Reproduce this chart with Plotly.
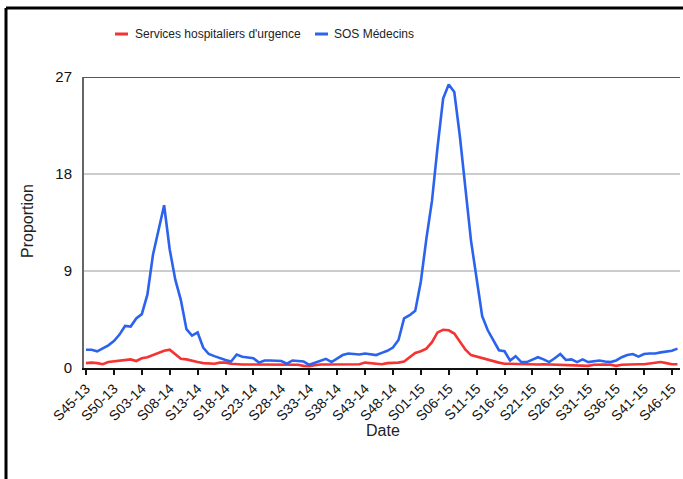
import plotly.graph_objects as go

# ---- data ----
weeks = ([f"S{w:02d}-13" for w in range(45, 53)] +
         [f"S{w:02d}-14" for w in range(1, 53)] +
         [f"S{w:02d}-15" for w in range(1, 48)])

sos_medecins = [
    1.7, 1.7, 1.55, 1.8, 2.1, 2.5, 3.1, 3.9, 3.85, 4.6,
    5.0, 6.8, 10.5, 12.8, 15.1, 11.0, 8.2, 6.3, 3.6, 3.0,
    3.3, 1.9, 1.3, 1.1, 0.9, 0.75, 0.6, 1.25, 1.05, 1.0,
    0.9, 0.5, 0.7, 0.7, 0.65, 0.65, 0.4, 0.7, 0.65, 0.6,
    0.3, 0.5, 0.7, 0.85, 0.55, 0.85, 1.2, 1.35, 1.3, 1.25,
    1.35, 1.25, 1.2, 1.4, 1.6, 1.9, 2.6, 4.6, 4.9, 5.3,
    8.0, 12.0, 15.5, 20.5, 25.0, 26.3, 25.6, 21.5, 16.3, 11.8,
    8.3, 4.8, 3.5, 2.5, 1.65, 1.55, 0.7, 1.1, 0.55, 0.55,
    0.8, 1.0, 0.8, 0.55, 0.9, 1.3, 0.75, 0.8, 0.55, 0.8,
    0.55, 0.65, 0.7, 0.6, 0.55, 0.7, 1.0, 1.2, 1.3, 1.05,
    1.3, 1.35, 1.35, 1.45, 1.55, 1.6, 1.8,
]

urgences = [
    0.45, 0.5, 0.45, 0.35, 0.55, 0.6, 0.65, 0.75, 0.8, 0.65,
    0.9, 1.0, 1.2, 1.4, 1.6, 1.7, 1.3, 0.85, 0.8, 0.65,
    0.55, 0.45, 0.4, 0.4, 0.5, 0.5, 0.4, 0.35, 0.33, 0.33,
    0.33, 0.35, 0.33, 0.33, 0.35, 0.33, 0.33, 0.3, 0.3, 0.2,
    0.17, 0.25, 0.33, 0.33, 0.33, 0.35, 0.33, 0.33, 0.35, 0.35,
    0.5, 0.45, 0.33, 0.35, 0.45, 0.45, 0.5, 0.6, 1.0, 1.4,
    1.55, 1.8, 2.4, 3.3, 3.55, 3.5, 3.2, 2.5, 1.7, 1.2,
    1.05, 0.95, 0.75, 0.6, 0.5, 0.4, 0.38, 0.35, 0.33, 0.33,
    0.33, 0.33, 0.35, 0.33, 0.33, 0.33, 0.33, 0.3, 0.3, 0.25,
    0.2, 0.3, 0.33, 0.33, 0.3, 0.2, 0.3, 0.33, 0.33, 0.35,
    0.35, 0.4, 0.45, 0.55, 0.45, 0.35, 0.35,
]

tick_labels = ["S45-13", "S50-13", "S03-14", "S08-14", "S13-14", "S18-14",
               "S23-14", "S28-14", "S33-14", "S38-14", "S43-14", "S48-14",
               "S01-15", "S06-15", "S11-15", "S16-15", "S21-15", "S26-15",
               "S31-15", "S36-15", "S41-15", "S46-15"]
y_ticks = [0, 9, 18, 27]

series_names = ["Services hospitaliers d'urgence", "SOS Médecins"]
RED = "#f43333"
BLUE = "#2b63ee"
FONT = "Liberation Sans, Arial, sans-serif"

fig = go.Figure()
fig.add_trace(go.Scatter(x=weeks, y=urgences, mode="lines", name=series_names[0],
                         line=dict(color=RED, width=2.6), showlegend=False))
fig.add_trace(go.Scatter(x=weeks, y=sos_medecins, mode="lines", name=series_names[1],
                         line=dict(color=BLUE, width=2.6), showlegend=False))

W, H = 683, 479
L, R, T, B = 84, 3, 77, 111
pw = W - L - R
ph = H - T - B

def px(x):
    return (x - L) / pw

def py(y):
    return (H - B - y) / ph

fig.update_layout(
    width=W, height=H,
    margin=dict(l=L, r=R, t=T, b=B, pad=0),
    paper_bgcolor="white", plot_bgcolor="white",
    font=dict(family=FONT, color="#111"),
    xaxis=dict(type="category", range=[-0.36, 106.45],
               tickmode="array", tickvals=tick_labels, ticktext=tick_labels,
               tickangle=-45, tickfont=dict(size=14, color="#111"),
               ticks="outside", ticklen=5, tickwidth=2, tickcolor="#111",
               showline=True, linecolor="#111", linewidth=2,
               showgrid=False, zeroline=False),
    yaxis=dict(range=[0, 27], tickmode="array", tickvals=y_ticks,
               tickfont=dict(size=15, color="#111"),
               showgrid=True, gridcolor="#cccccc", gridwidth=2,
               showline=True, linecolor="#666", linewidth=2,
               zeroline=False, ticks="", ticklabelstandoff=7),
)

shapes = [
    dict(type="line", xref="paper", yref="y", x0=0, x1=1, y0=27, y1=27,
         line=dict(color="#555", width=2)),
    dict(type="line", xref="paper", yref="paper", x0=px(6), x1=px(6),
         y0=py(479), y1=py(8), line=dict(color="black", width=3)),
    dict(type="line", xref="paper", yref="paper", x0=px(6), x1=px(683),
         y0=py(8), y1=py(8), line=dict(color="black", width=3)),
    dict(type="line", xref="paper", yref="paper", x0=px(115), x1=px(128),
         y0=py(34), y1=py(34), line=dict(color=RED, width=3)),
    dict(type="line", xref="paper", yref="paper", x0=px(315), x1=px(328),
         y0=py(34), y1=py(34), line=dict(color=BLUE, width=3)),
]
fig.update_layout(shapes=shapes)

annotations = [
    dict(text=series_names[0], xref="paper", yref="paper", x=px(133), y=py(34),
         xanchor="left", yanchor="middle", showarrow=False,
         font=dict(size=12, color="#222", family=FONT)),
    dict(text=series_names[1], xref="paper", yref="paper", x=px(332), y=py(34),
         xanchor="left", yanchor="middle", showarrow=False,
         font=dict(size=12, color="#222", family=FONT)),
    dict(text="Date", xref="paper", yref="paper", x=px(383), y=py(430),
         xanchor="center", yanchor="middle", showarrow=False,
         font=dict(size=16, color="#222", family=FONT)),
    dict(text="Proportion", xref="paper", yref="paper", x=px(27), y=py(221),
         xanchor="center", yanchor="middle", showarrow=False, textangle=-90,
         font=dict(size=16, color="#222", family=FONT)),
]
fig.update_layout(annotations=annotations)

fig.write_html("out.html", config={"displayModeBar": False},
               post_script="document.body.style.margin='0';document.body.style.overflow='hidden';")
